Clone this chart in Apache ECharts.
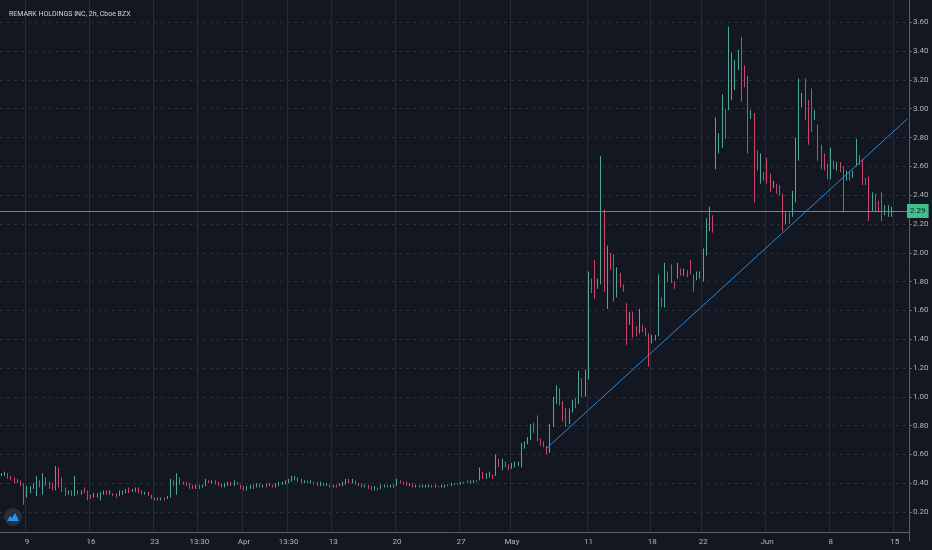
<!DOCTYPE html>
<html>
<head>
<meta charset="utf-8">
<script src="https://cdn.jsdelivr.net/npm/echarts@6/dist/echarts.min.js"></script>
<style>
  html, body { margin: 0; padding: 0; background: #131722; }
  #chart { width: 932px; height: 550px; }
</style>
</head>
<body>
<div id="chart"></div>
<script>
// REMARK HOLDINGS INC, 2h bars, Cboe BZX (Mar - Jun 2020)

const tradingDays = [
  '2020-03-05', '2020-03-06',
  '2020-03-09', '2020-03-10', '2020-03-11', '2020-03-12', '2020-03-13',
  '2020-03-16', '2020-03-17', '2020-03-18', '2020-03-19', '2020-03-20',
  '2020-03-23', '2020-03-24', '2020-03-25', '2020-03-26', '2020-03-27',
  '2020-03-30', '2020-03-31', '2020-04-01', '2020-04-02', '2020-04-03',
  '2020-04-06', '2020-04-07', '2020-04-08', '2020-04-09',
  '2020-04-13', '2020-04-14', '2020-04-15', '2020-04-16', '2020-04-17',
  '2020-04-20', '2020-04-21', '2020-04-22', '2020-04-23', '2020-04-24',
  '2020-04-27', '2020-04-28', '2020-04-29', '2020-04-30', '2020-05-01',
  '2020-05-04', '2020-05-05', '2020-05-06', '2020-05-07', '2020-05-08',
  '2020-05-11', '2020-05-12', '2020-05-13', '2020-05-14', '2020-05-15',
  '2020-05-18', '2020-05-19', '2020-05-20', '2020-05-21', '2020-05-22',
  '2020-05-26', '2020-05-27', '2020-05-28', '2020-05-29',
  '2020-06-01', '2020-06-02', '2020-06-03', '2020-06-04', '2020-06-05',
  '2020-06-08', '2020-06-09', '2020-06-10', '2020-06-11', '2020-06-12',
  '2020-06-15', '2020-06-16'
]
const sessions = ['09:30', '11:30', '13:30', '15:30']

// bottom axis labels, keyed by bar
const tickLabels = {
  '2020-03-09 09:30': '9',
  '2020-03-16 09:30': '16',
  '2020-03-23 09:30': '23',
  '2020-03-26 13:30': '13:30',
  '2020-04-01 09:30': 'Apr',
  '2020-04-06 13:30': '13:30',
  '2020-04-13 09:30': '13',
  '2020-04-20 09:30': '20',
  '2020-04-27 09:30': '27',
  '2020-05-01 09:30': 'May',
  '2020-05-11 09:30': '11',
  '2020-05-18 09:30': '18',
  '2020-05-22 09:30': '22',
  '2020-06-01 09:30': 'Jun',
  '2020-06-08 09:30': '8',
  '2020-06-15 09:30': '15'
}

// bars: [open, close, low, high]
const marchBars = [
  [0.46,0.46,0.45,0.47],[0.46,0.47,0.45,0.48],[0.46,0.44,0.43,0.47],[0.44,0.43,0.42,0.45],
  [0.43,0.42,0.40,0.44],[0.42,0.41,0.40,0.43],[0.41,0.39,0.38,0.42],[0.39,0.33,0.25,0.40],
  [0.33,0.36,0.30,0.38],[0.36,0.37,0.33,0.38],[0.37,0.38,0.36,0.40],[0.36,0.42,0.31,0.45],
  [0.41,0.39,0.37,0.42],[0.38,0.44,0.32,0.47],[0.43,0.40,0.38,0.44],[0.40,0.38,0.36,0.41],
  [0.38,0.37,0.35,0.40],[0.37,0.47,0.35,0.52],[0.47,0.46,0.37,0.51],[0.44,0.36,0.34,0.44],
  [0.36,0.33,0.31,0.37],[0.33,0.34,0.32,0.35],[0.34,0.33,0.31,0.35],[0.33,0.39,0.31,0.45],
  [0.34,0.33,0.32,0.35],[0.33,0.34,0.32,0.35],[0.36,0.34,0.33,0.37],[0.34,0.31,0.28,0.35],
  [0.31,0.30,0.29,0.32],[0.30,0.31,0.30,0.33],[0.31,0.31,0.30,0.33],[0.30,0.33,0.28,0.34],
  [0.33,0.34,0.32,0.35],[0.34,0.33,0.32,0.35],[0.33,0.33,0.32,0.35],[0.33,0.32,0.31,0.33],
  [0.32,0.31,0.30,0.33],[0.31,0.33,0.31,0.35],[0.33,0.34,0.32,0.35],[0.34,0.35,0.33,0.36],
  [0.35,0.34,0.33,0.37],[0.34,0.35,0.34,0.36],[0.35,0.36,0.34,0.37],[0.36,0.34,0.33,0.37],
  [0.34,0.33,0.32,0.35],[0.33,0.33,0.32,0.34],[0.33,0.32,0.31,0.34],[0.32,0.30,0.29,0.32],
  [0.30,0.29,0.28,0.30],[0.29,0.29,0.28,0.30],[0.29,0.30,0.28,0.30],[0.29,0.29,0.28,0.30],
  [0.29,0.30,0.29,0.31],[0.30,0.41,0.30,0.43],[0.41,0.40,0.38,0.42],[0.40,0.44,0.32,0.47],
  [0.43,0.41,0.39,0.44],[0.41,0.40,0.39,0.41],[0.40,0.39,0.38,0.41],[0.39,0.38,0.36,0.40],
  [0.38,0.37,0.36,0.39],[0.37,0.38,0.36,0.39],[0.38,0.37,0.36,0.39],[0.37,0.38,0.37,0.39],
  [0.38,0.42,0.38,0.43],[0.42,0.41,0.40,0.42],[0.41,0.41,0.40,0.42],[0.41,0.40,0.39,0.42],
  [0.40,0.39,0.38,0.41],[0.39,0.38,0.37,0.40],[0.38,0.39,0.37,0.40],[0.39,0.40,0.38,0.41],
  [0.40,0.39,0.38,0.41],[0.39,0.41,0.38,0.42],[0.41,0.40,0.39,0.41],[0.39,0.37,0.36,0.39]
]
const aprilBars = [
  [0.37,0.36,0.35,0.38],[0.36,0.37,0.35,0.38],[0.37,0.38,0.36,0.39],[0.38,0.37,0.36,0.39],
  [0.37,0.39,0.37,0.40],[0.39,0.38,0.37,0.40],[0.38,0.39,0.37,0.39],[0.39,0.38,0.37,0.40],
  [0.38,0.39,0.38,0.40],[0.39,0.38,0.37,0.39],[0.38,0.39,0.37,0.40],[0.39,0.40,0.38,0.41],
  [0.40,0.40,0.39,0.41],[0.40,0.41,0.39,0.42],[0.41,0.42,0.40,0.43],[0.42,0.43,0.41,0.45],
  [0.43,0.44,0.42,0.45],[0.43,0.42,0.41,0.44],[0.42,0.41,0.40,0.43],[0.41,0.42,0.40,0.42],
  [0.42,0.41,0.40,0.42],[0.41,0.41,0.40,0.42],[0.41,0.40,0.39,0.41],[0.40,0.39,0.38,0.41],
  [0.39,0.40,0.38,0.41],[0.40,0.39,0.38,0.40],[0.39,0.39,0.38,0.40],[0.39,0.38,0.37,0.39],
  [0.38,0.39,0.37,0.39],[0.39,0.38,0.37,0.39],[0.38,0.39,0.38,0.40],[0.39,0.40,0.38,0.41],
  [0.40,0.42,0.39,0.43],[0.42,0.41,0.40,0.43],[0.41,0.42,0.40,0.43],[0.42,0.40,0.39,0.42],
  [0.40,0.39,0.38,0.40],[0.39,0.38,0.37,0.40],[0.38,0.39,0.37,0.39],[0.39,0.37,0.36,0.39],
  [0.37,0.36,0.35,0.38],[0.36,0.37,0.35,0.38],[0.37,0.36,0.35,0.37],[0.36,0.38,0.36,0.39],
  [0.38,0.38,0.37,0.39],[0.38,0.37,0.37,0.39],[0.37,0.38,0.37,0.39],[0.38,0.38,0.37,0.39],
  [0.38,0.42,0.38,0.43],[0.42,0.41,0.40,0.42],[0.41,0.40,0.39,0.41],[0.40,0.39,0.38,0.41],
  [0.39,0.40,0.38,0.40],[0.40,0.38,0.37,0.40],[0.38,0.38,0.37,0.39],[0.38,0.37,0.37,0.39],
  [0.37,0.38,0.37,0.39],[0.38,0.38,0.37,0.39],[0.38,0.39,0.37,0.39],[0.39,0.38,0.37,0.39],
  [0.38,0.38,0.37,0.39],[0.38,0.37,0.37,0.38],[0.37,0.38,0.37,0.39],[0.38,0.38,0.37,0.39],
  [0.38,0.39,0.38,0.39],[0.39,0.39,0.38,0.40],[0.39,0.40,0.39,0.40],[0.40,0.39,0.39,0.40],
  [0.39,0.40,0.39,0.41],[0.40,0.41,0.40,0.41],[0.41,0.40,0.40,0.42],[0.40,0.41,0.40,0.42],
  [0.41,0.41,0.40,0.42],[0.41,0.42,0.41,0.42],[0.42,0.48,0.42,0.51],[0.47,0.45,0.43,0.48],
  [0.45,0.46,0.43,0.47],[0.46,0.47,0.44,0.48],[0.46,0.44,0.43,0.46],[0.45,0.56,0.45,0.60],
  [0.55,0.53,0.51,0.57],[0.53,0.56,0.49,0.57],[0.55,0.53,0.51,0.55],[0.53,0.50,0.49,0.53]
]
const mayBars = [
  [0.50,0.52,0.50,0.54],[0.52,0.53,0.51,0.55],[0.53,0.54,0.52,0.55],[0.54,0.65,0.51,0.68],
  [0.65,0.68,0.64,0.69],[0.68,0.71,0.67,0.72],[0.71,0.79,0.70,0.81],[0.79,0.76,0.75,0.82],
  [0.80,0.70,0.69,0.87],[0.70,0.68,0.66,0.71],[0.68,0.66,0.65,0.69],[0.65,0.61,0.60,0.66],
  [0.62,0.80,0.61,0.81],[0.80,0.98,0.79,1.00],[0.98,1.04,0.95,1.08],[1.04,0.96,0.94,1.06],
  [0.96,0.84,0.83,0.97],[0.84,0.81,0.79,0.92],[0.82,0.90,0.81,0.92],[0.90,0.97,0.89,0.98],
  [0.97,0.94,0.92,0.99],[0.97,1.13,0.95,1.18],[1.12,1.02,1.00,1.13],[1.02,1.14,1.00,1.19],
  [1.14,1.80,1.12,1.87],[1.80,1.76,1.72,1.82],[1.92,1.72,1.68,1.95],[1.76,1.80,1.75,1.82],
  [1.80,2.31,1.78,2.67],[2.30,1.78,1.73,2.30],[1.70,2.00,1.61,2.05],[1.95,1.90,1.88,2.00],
  [1.98,1.70,1.66,1.99],[1.72,1.86,1.69,1.90],[1.84,1.80,1.76,1.86],[1.78,1.75,1.73,1.78],
  [1.65,1.40,1.36,1.65],[1.52,1.56,1.50,1.59],[1.58,1.45,1.41,1.59],[1.46,1.44,1.42,1.49],
  [1.45,1.58,1.44,1.61],[1.49,1.47,1.45,1.50],[1.47,1.44,1.42,1.48],[1.44,1.30,1.21,1.44],
  [1.38,1.41,1.37,1.43],[1.41,1.42,1.39,1.43],[1.43,1.78,1.42,1.85],[1.70,1.66,1.62,1.69],
  [1.66,1.88,1.62,1.93],[1.86,1.84,1.80,1.87],[1.90,1.81,1.79,1.92],[1.79,1.77,1.75,1.80],
  [1.84,1.90,1.82,1.93],[1.88,1.86,1.84,1.89],[1.86,1.87,1.84,1.89],[1.87,1.86,1.83,1.88],
  [1.93,1.86,1.85,1.95],[1.84,1.78,1.73,1.85],[1.82,1.84,1.81,1.87],[1.84,1.85,1.82,1.87],
  [1.82,2.00,1.80,2.03],[2.00,2.22,1.98,2.24],[2.20,2.28,2.15,2.32],[2.24,2.19,2.14,2.26],
  [2.60,2.80,2.58,2.94],[2.71,2.80,2.69,2.83],[2.78,3.04,2.73,3.10],[3.00,2.84,2.79,3.00],
  [2.99,3.30,2.99,3.57],[3.12,3.34,3.06,3.39],[3.18,3.28,3.13,3.34],[3.28,3.38,3.27,3.41],
  [3.45,3.12,3.05,3.50],[3.26,3.17,3.15,3.30],[3.20,2.76,2.69,3.23],[2.94,2.97,2.93,2.99],
  [2.96,2.42,2.35,2.97],[2.70,2.60,2.57,2.71],[2.52,2.66,2.48,2.69],[2.55,2.52,2.50,2.56]
]
const juneBars = [
  [2.64,2.50,2.48,2.66],[2.52,2.46,2.42,2.55],[2.47,2.48,2.45,2.50],[2.47,2.43,2.41,2.48],
  [2.46,2.42,2.40,2.47],[2.40,2.20,2.15,2.41],[2.21,2.26,2.20,2.28],[2.26,2.23,2.20,2.28],
  [2.27,2.40,2.25,2.43],[2.38,2.72,2.35,2.80],[2.68,3.08,2.64,3.21],[3.05,3.09,3.01,3.11],
  [3.16,2.96,2.92,3.21],[3.02,2.80,2.75,3.06],[3.10,2.88,2.84,3.14],[2.93,2.97,2.92,2.99],
  [2.88,2.68,2.64,2.89],[2.72,2.62,2.58,2.75],[2.66,2.60,2.57,2.69],[2.60,2.55,2.51,2.62],
  [2.55,2.68,2.51,2.73],[2.63,2.60,2.58,2.64],[2.60,2.61,2.57,2.63],[2.61,2.59,2.56,2.63],
  [2.60,2.33,2.28,2.60],[2.52,2.55,2.50,2.57],[2.54,2.53,2.50,2.57],[2.53,2.56,2.52,2.57],
  [2.62,2.72,2.60,2.79],[2.66,2.63,2.61,2.68],[2.63,2.50,2.47,2.65],[2.51,2.49,2.47,2.52],
  [2.50,2.27,2.22,2.53],[2.31,2.38,2.29,2.42],[2.36,2.33,2.28,2.41],[2.34,2.30,2.28,2.36],
  [2.38,2.26,2.22,2.42],[2.28,2.30,2.26,2.33],[2.27,2.31,2.25,2.33],[2.27,2.29,2.25,2.32]
]

const lastPrice = 2.29
// drawn trend line, anchored on the May 5 low
const trendLine = [['2020-05-05 15:30', 0.645], ['2020-06-16 09:30', 2.93]]

const bars = [...marchBars, ...aprilBars, ...mayBars, ...juneBars]
const categories = []
tradingDays.forEach(d => sessions.forEach(s => categories.push(d + ' ' + s)))
categories.length = 285

const upColor = '#4fa897'
const downColor = '#cc4468'
const textColor = '#b2b5be'
const isTick = (i, v) => v in tickLabels

const myChart = echarts.init(document.getElementById('chart'))

let option = {
  backgroundColor: '#131722',
  animation: false,
  title: {
    text: 'REMARK HOLDINGS INC, 2h, Cboe BZX',
    left: 4,
    top: 6,
    textStyle: { color: '#d1d4dc', fontSize: 7, fontWeight: 'normal', fontFamily: 'Roboto, sans-serif' },
  },
  grid: [
    { left: -2, right: 23, top: 0, bottom: 9.2 },
    { left: -2, right: 23, top: 0, bottom: 18 },
  ],
  xAxis: [
    { gridIndex: 0, type: 'category', data: categories, show: false },
    {
      gridIndex: 1,
      type: 'category',
      data: categories,
      axisLine: { lineStyle: { color: '#5d606b' } },
      axisTick: { show: false },
      axisLabel: {
        interval: isTick,
        formatter: v => tickLabels[v] || '',
        color: textColor,
        fontSize: 8,
        margin: 6,
        fontFamily: 'Roboto, sans-serif',
      },
      splitLine: { show: true, interval: isTick, lineStyle: { color: '#272b36', width: 1 } },
    },
  ],
  yAxis: [
    {
      gridIndex: 0,
      type: 'value',
      position: 'right',
      min: 0,
      max: 3.755,
      interval: 0.2,
      axisLine: { show: true, lineStyle: { color: '#5d606b' } },
      axisTick: { show: true, length: 3, lineStyle: { color: '#5d606b' } },
      axisLabel: {
        color: textColor,
        fontSize: 8,
        margin: 4,
        showMinLabel: false,
        showMaxLabel: false,
        formatter: v => v.toFixed(2),
        fontFamily: 'Roboto, sans-serif',
      },
      splitLine: {
        show: true,
        showMinLine: false,
        showMaxLine: false,
        lineStyle: { color: '#2c303b', type: [3, 4] },
      },
    },
    { gridIndex: 1, type: 'value', show: false, min: 0, max: 1 },
  ],
  graphic: [
    { type: 'circle', shape: { cx: 13, cy: 517, r: 9 }, style: { fill: '#2a2e39' } },
    {
      type: 'polygon',
      shape: { points: [[7, 521], [10, 516], [12, 518], [15, 513], [19, 521]] },
      style: { fill: '#2196f3' },
    },
  ],
  series: [
    {
      type: 'candlestick',
      xAxisIndex: 0,
      yAxisIndex: 0,
      data: bars,
      barWidth: 1,
      itemStyle: {
        color: upColor,
        color0: downColor,
        borderColor: upColor,
        borderColor0: downColor,
        borderWidth: 1,
      },
      markLine: {
        silent: true,
        symbol: ['none', 'none'],
        label: {
          position: 'end',
          distance: -2,
          formatter: lastPrice.toFixed(2),
          backgroundColor: '#44bd8e',
          color: '#0d1f17',
          fontSize: 8,
          padding: [3, 3],
          fontFamily: 'Roboto, sans-serif',
        },
        data: [{ yAxis: lastPrice, lineStyle: { color: '#3aa886', type: 'solid', width: 1, opacity: 1 } }],
      },
    },
    {
      type: 'line',
      xAxisIndex: 0,
      yAxisIndex: 0,
      data: trendLine,
      symbol: 'none',
      silent: true,
      lineStyle: { color: '#2a8ad6', width: 1 },
    },
  ],
}
myChart.setOption(option)
</script>
</body>
</html>
